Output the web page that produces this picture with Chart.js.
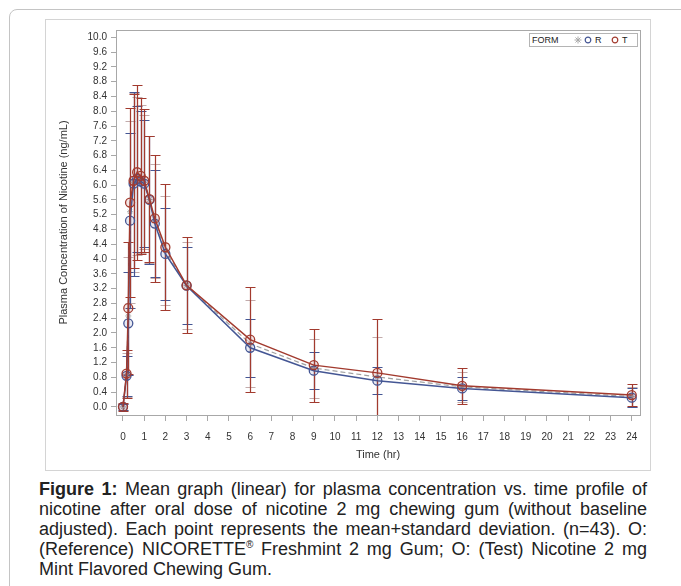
<!DOCTYPE html>
<html>
<head>
<meta charset="utf-8">
<script src="https://cdn.jsdelivr.net/npm/chart.js@4.4.1/dist/chart.umd.min.js"></script>
<style>
  html, body { margin: 0; padding: 0; background: #fff; }
  body { width: 681px; height: 586px; overflow: hidden; position: relative; font-family: "Liberation Sans", Arial, sans-serif; }
  #outer { position: absolute; left: 9px; top: 9px; width: 700px; height: 620px; border: 1px solid #c4c4c4; border-top-left-radius: 8px; }
  #frame { position: absolute; left: 45px; top: 19px; width: 604px; height: 450px; border: 1px solid #d4d4d4; }
  #frame canvas { display: block; }
  #legend { position: absolute; left: 529px; top: 33px; width: 107px; height: 12px; border: 1px solid #b4b4b4; background: #fff; font-size: 9px; color: #222; }
  #legend span, #legend svg { position: absolute; }
  #caption { position: absolute; left: 39px; top: 479px; width: 608px; font-size: 18px; line-height: 20px; text-align: justify; color: #222; }
  #caption sup { font-size: 10px; line-height: 0; }
</style>
</head>
<body>
<div id="outer"></div>
<div id="frame"><canvas id="myChart" width="604" height="450"></canvas></div>
<div id="legend">
  <span style="left:2px;top:1px">FORM</span>
  <svg style="left:44px;top:2px" width="8" height="8" viewBox="0 0 8 8"><g stroke="#a8a8a8" stroke-width="1"><line x1="4" y1="0.5" x2="4" y2="7.5"/><line x1="0.5" y1="4" x2="7.5" y2="4"/><line x1="1.5" y1="1.5" x2="6.5" y2="6.5"/><line x1="6.5" y1="1.5" x2="1.5" y2="6.5"/></g></svg>
  <svg style="left:54px;top:2px" width="8" height="8" viewBox="0 0 8 8"><circle cx="4" cy="4" r="2.8" fill="none" stroke="#445694" stroke-width="1.2"/></svg>
  <span style="left:65px;top:1px">R</span>
  <svg style="left:81px;top:2px" width="8" height="8" viewBox="0 0 8 8"><circle cx="4" cy="4" r="2.8" fill="none" stroke="#a23a2e" stroke-width="1.2"/></svg>
  <span style="left:92px;top:1px">T</span>
</div>
<div id="caption"><b>Figure 1:</b> Mean graph (linear) for plasma concentration vs. time profile of nicotine after oral dose of nicotine 2 mg chewing gum (without baseline adjusted). Each point represents the mean+standard deviation. (n=43). O: (Reference) NICORETTE<sup>®</sup> Freshmint 2 mg Gum; O: (Test) Nicotine 2 mg Mint Flavored Chewing Gum.</div>
<script>
// sampling times (hr)
const times = [0, 0.167, 0.25, 0.333, 0.5, 0.667, 0.833, 1, 1.25, 1.5, 2, 3, 6, 9, 12, 16, 24];

// R = reference, T = test, G = grey dashed group (FORM)
const refMean  = [0, 0.84, 2.26, 5.04, 6.04, 6.17, 6.10, 6.04, 5.60, 4.96, 4.14, 3.28, 1.60, 0.98, 0.71, 0.50, 0.25];
const refSD    = [0.08, 0.54, 1.39, 2.37, 2.49, 1.97, 1.90, 1.72, 1.73, 1.45, 1.24, 1.05, 0.79, 0.50, 0.36, 0.32, 0.25];
const testMean = [0, 0.90, 2.67, 5.53, 6.12, 6.35, 6.25, 6.12, 5.62, 5.10, 4.32, 3.29, 1.82, 1.13, 0.92, 0.57, 0.32];
const testSD   = [0.10, 0.65, 1.79, 2.56, 2.35, 2.37, 2.10, 1.94, 1.71, 1.72, 1.71, 1.30, 1.42, 0.99, 1.47, 0.49, 0.29];
const grpMean  = [0, 0.87, 2.46, 5.28, 6.08, 6.26, 6.17, 6.08, 5.61, 5.03, 4.23, 3.29, 1.71, 1.05, 0.81, 0.54, 0.28];
const grpSD    = [0.09, 0.60, 1.60, 2.47, 2.42, 2.14, 2.00, 1.82, 1.72, 1.55, 1.47, 1.18, 1.17, 0.80, 1.09, 0.41, 0.27];

const xTicks = [0, 1, 2, 3, 4, 5, 6, 7, 8, 9, 10, 11, 12, 13, 14, 15, 16, 17, 18, 19, 20, 21, 22, 23, 24];
const yTicks = [0, 0.4, 0.8, 1.2, 1.6, 2.0, 2.4, 2.8, 3.2, 3.6, 4.0, 4.4, 4.8, 5.2, 5.6, 6.0, 6.4, 6.8, 7.2, 7.6, 8.0, 8.4, 8.8, 9.2, 9.6, 10.0];

const BLUE = '#445694';
const RED = '#a23a2e';
const GREY = '#a0a0a0';

function pts(means) {
  return times.map((t, i) => ({ x: t, y: means[i] }));
}

// mean +/- sd bars with caps, clipped to the plot
const errorBars = {
  id: 'errorBars',
  beforeDatasetsDraw(chart) {
    const { ctx, chartArea, scales: { x, y } } = chart;
    ctx.save();
    ctx.beginPath();
    ctx.rect(chartArea.left, chartArea.top, chartArea.width, chartArea.height);
    ctx.clip();
    for (let i = chart.data.datasets.length - 1; i >= 0; i--) {
      const ds = chart.data.datasets[i];
      ctx.strokeStyle = ds.barColor;
      ctx.lineWidth = 1.2;
      ds.data.forEach((p, j) => {
        const px = Math.round(x.getPixelForValue(p.x)) + 0.5;
        const top = Math.round(y.getPixelForValue(p.y + ds.sd[j])) + 0.5;
        const bot = Math.round(y.getPixelForValue(p.y - ds.sd[j])) + 0.5;
        ctx.beginPath();
        ctx.moveTo(px, top); ctx.lineTo(px, bot);
        ctx.moveTo(px - 5, top); ctx.lineTo(px + 5, top);
        ctx.moveTo(px - 5, bot); ctx.lineTo(px + 5, bot);
        ctx.stroke();
      });
    }
    ctx.restore();
  }
};

// grey box round the plot area
const plotFrame = {
  id: 'plotFrame',
  afterDraw(chart) {
    const { ctx, chartArea: a } = chart;
    ctx.save();
    ctx.strokeStyle = '#a8a8a8';
    ctx.lineWidth = 1;
    ctx.strokeRect(Math.round(a.left) + 0.5, Math.round(a.top) + 0.5, Math.round(a.width), Math.round(a.height));
    ctx.restore();
  }
};

const data = {
  datasets: [
    {
      label: 'T',
      data: pts(testMean),
      sd: testSD,
      barColor: RED,
      borderColor: RED,
      backgroundColor: 'rgba(162,58,46,0.12)',
      borderWidth: 1.5,
      pointRadius: 4.5,
      pointBorderWidth: 1.3,
      pointBorderColor: RED,
      pointBackgroundColor: 'rgba(162,58,46,0.12)',
    },
    {
      label: 'R',
      data: pts(refMean),
      sd: refSD,
      barColor: BLUE,
      borderColor: BLUE,
      backgroundColor: 'rgba(68,86,148,0.12)',
      borderWidth: 1.5,
      pointRadius: 4.5,
      pointBorderWidth: 1.3,
      pointBorderColor: BLUE,
      pointBackgroundColor: 'rgba(68,86,148,0.12)',
    },
    {
      label: 'FORM',
      data: pts(grpMean),
      sd: grpSD,
      barColor: '#c2abab',
      borderColor: GREY,
      borderDash: [5, 3],
      borderWidth: 1.2,
      pointStyle: 'star',
      pointRadius: 3,
      pointBorderWidth: 1,
      pointBorderColor: GREY,
    }
  ]
};

const tickFont = { family: '"Liberation Sans", Arial, sans-serif', size: 10 };
const titleFont = { family: '"Liberation Sans", Arial, sans-serif', size: 11 };

const config = {
  type: 'line',
  data: data,
  options: {
    responsive: false,
    animation: false,
    layout: { padding: { top: 9, right: 10, left: 0, bottom: 0 } },
    plugins: { legend: { display: false }, tooltip: { enabled: false } },
    scales: {
      x: {
        type: 'linear',
        min: -0.33,
        max: 24.39,
        afterBuildTicks: (s) => { s.ticks = xTicks.map(v => ({ value: v })); },
        afterFit: (s) => { s.height = 55; },
        grid: { drawOnChartArea: false, drawTicks: true, tickLength: 6, color: '#a8a8a8' },
        border: { color: '#a8a8a8' },
        ticks: { font: tickFont, color: '#333', padding: 10, maxRotation: 0, autoSkip: false },
        title: { display: true, text: 'Time (hr)', font: titleFont, color: '#333', padding: { top: 0, bottom: 8 } }
      },
      y: {
        min: -0.22,
        max: 10.2,
        afterBuildTicks: (s) => { s.ticks = yTicks.map(v => ({ value: v })); },
        afterFit: (s) => { s.width = 70; },
        grid: { drawOnChartArea: false, drawTicks: true, tickLength: 5, color: '#a8a8a8' },
        border: { color: '#a8a8a8' },
        ticks: { font: tickFont, color: '#333', padding: 4, autoSkip: false, callback: (v) => Number(v).toFixed(1) },
        title: { display: true, text: 'Plasma Concentration of Nicotine (ng/mL)', font: titleFont, color: '#333', padding: { top: 11, bottom: 0 } }
      }
    }
  },
  plugins: [errorBars, plotFrame]
};

const myChart = new Chart(document.getElementById('myChart'), config);
</script>
</body>
</html>
